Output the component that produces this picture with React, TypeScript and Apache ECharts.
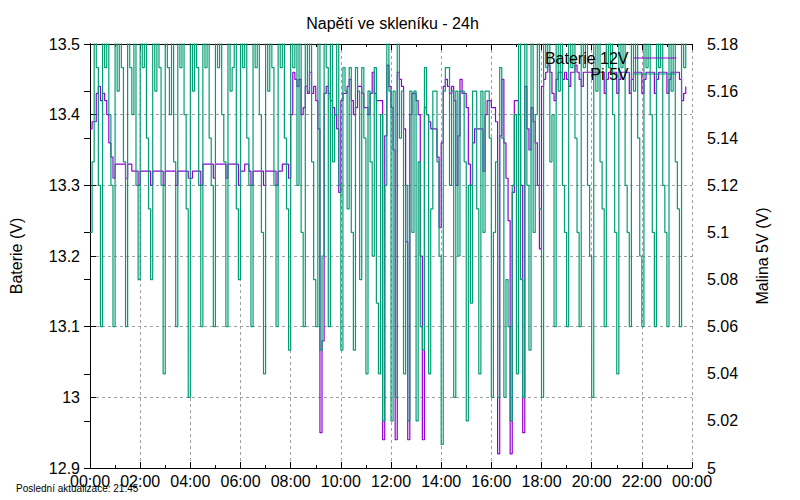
import React, { useEffect, useRef } from 'react';
import * as echarts from 'echarts';

// 5-minute samples, one row per hour (00:00 .. 23:45)
const T = 5.19; // Pi voltage above the plotted range (clipped at the top)

const bateriePerHour: number[][] = [
    [13.38, 13.39, 13.39, 13.43, 13.44, 13.42, 13.43, 13.42, 13.40, 13.36, 13.34, 13.31],
    [13.33, 13.33, 13.33, 13.33, 13.33, 13.31, 13.33, 13.33, 13.32, 13.32, 13.32, 13.30],
    [13.32, 13.32, 13.32, 13.32, 13.32, 13.30, 13.32, 13.32, 13.32, 13.32, 13.32, 13.30],
    [13.32, 13.32, 13.32, 13.32, 13.32, 13.30, 13.32, 13.32, 13.32, 13.32, 13.32, 13.31],
    [13.31, 13.32, 13.32, 13.32, 13.32, 13.30, 13.33, 13.33, 13.33, 13.33, 13.33, 13.31],
    [13.33, 13.33, 13.33, 13.33, 13.33, 13.31, 13.33, 13.33, 13.33, 13.33, 13.33, 13.30],
    [13.32, 13.32, 13.33, 13.33, 13.32, 13.30, 13.32, 13.32, 13.32, 13.32, 13.32, 13.30],
    [13.32, 13.32, 13.32, 13.32, 13.32, 13.30, 13.32, 13.32, 13.33, 13.33, 13.33, 13.31],
    [13.40, 13.46, 13.45, 13.44, 13.45, 13.40, 13.41, 13.44, 13.43, 13.46, 13.43, 13.44],
    [13.42, 13.38, 12.95, 13.08, 13.43, 13.44, 13.43, 13.42, 13.41, 13.40, 13.38, 13.29],
    [13.42, 13.43, 13.43, 13.44, 13.45, 13.42, 13.40, 13.41, 13.44, 13.44, 13.43, 13.41],
    [13.41, 13.40, 13.43, 13.46, 13.43, 13.42, 13.42, 13.42, 12.94, 13.37, 13.47, 13.44],
    [13.41, 13.35, 12.94, 13.46, 13.45, 13.44, 13.38, 13.22, 12.94, 13.40, 13.43, 13.43],
    [13.42, 13.40, 13.20, 12.94, 13.41, 13.40, 13.39, 13.38, 13.38, 13.38, 13.34, 13.24],
    [13.36, 13.44, 13.45, 13.44, 13.43, 13.44, 13.42, 13.30, 13.37, 13.45, 13.43, 13.43],
    [13.41, 13.33, 13.30, 13.36, 13.38, 13.38, 13.38, 13.38, 13.32, 13.40, 13.42, 13.42],
    [13.41, 13.41, 13.39, 12.92, 13.37, 13.45, 13.36, 13.31, 13.25, 12.92, 13.29, 13.42],
    [13.42, 13.40, 13.30, 12.95, 13.44, 13.38, 13.35, 13.41, 13.39, 13.36, 13.30, 13.21],
    [13.44, 13.45, 13.46, 13.47, 13.46, 13.43, 13.42, 13.45, 13.46, 13.46, 13.45, 13.46],
    [13.45, 13.44, 13.46, 13.46, 13.47, 13.46, 13.45, 13.44, 13.46, 13.46, 13.46, 13.46],
    [13.46, 13.46, 13.46, 13.46, 13.46, 13.46, 13.43, 13.45, 13.46, 13.46, 13.46, 13.46],
    [13.43, 13.45, 13.46, 13.46, 13.46, 13.46, 13.43, 13.45, 13.46, 13.46, 13.46, 13.46],
    [13.43, 13.45, 13.46, 13.46, 13.46, 13.46, 13.43, 13.45, 13.46, 13.46, 13.46, 13.46],
    [13.43, 13.45, 13.46, 13.46, 13.46, 13.46, 13.45, 13.42, 13.43, 13.44],
];

const piPerHour: number[][] = [
    [5.10, 5.13, T, 5.17, 5.12, 5.06, T, 5.17, T, 5.15, 5.12, 5.06],
    [T, 5.16, T, 5.17, 5.13, 5.06, T, 5.17, 5.15, T, 5.12, 5.08],
    [T, 5.17, T, 5.14, 5.11, 5.08, T, 5.16, T, 5.17, 5.12, 5.04],
    [T, 5.17, 5.15, T, 5.13, 5.06, T, 5.17, T, 5.15, 5.11, 5.03],
    [T, 5.16, T, 5.17, 5.12, 5.06, T, 5.17, T, 5.14, 5.12, 5.06],
    [T, 5.17, T, 5.15, 5.13, 5.06, T, 5.16, 5.17, T, 5.11, 5.08],
    [T, 5.17, T, 5.14, 5.12, 5.06, T, 5.17, T, 5.15, 5.10, 5.04],
    [T, 5.16, T, 5.17, 5.12, 5.06, T, 5.17, T, 5.14, 5.11, 5.05],
    [T, 5.17, T, 5.12, T, 5.10, 5.06, T, 5.16, T, 5.13, 5.08],
    [5.06, T, 5.05, 5.09, T, 5.17, 5.06, T, 5.13, 5.15, T, 5.12],
    [5.05, 5.17, 5.16, 5.11, 5.17, 5.10, 5.05, 5.17, 5.16, 5.08, 5.17, 5.14],
    [5.04, 5.16, 5.13, 5.09, 5.17, 5.07, 5.04, 5.15, 5.02, 5.12, T, 5.16],
    [5.02, 5.16, 5.03, T, 5.14, 5.16, 5.04, 5.12, 5.02, 5.16, 5.10, 5.16],
    [5.02, 5.13, 5.06, 5.05, 5.17, 5.15, 5.04, 5.11, 5.16, 5.16, 5.13, 5.09],
    [5.01, 5.16, 5.17, 5.17, 5.12, 5.16, 5.03, 5.16, 5.09, 5.16, 5.16, 5.13],
    [5.02, 5.12, 5.07, 5.16, 5.16, 5.11, 5.04, 5.16, 5.10, 5.16, 5.16, 5.14],
    [5.03, 5.10, 5.13, 5.03, 5.17, 5.14, 5.03, 5.08, 5.06, 5.02, 5.12, 5.15],
    [5.04, T, 5.08, 5.03, T, 5.12, 5.05, T, 5.10, 5.15, T, 5.11],
    [5.03, T, 5.17, T, 5.13, 5.15, 5.06, T, 5.16, T, 5.12, 5.10],
    [5.06, T, 5.17, T, 5.14, 5.10, 5.06, T, 5.17, T, 5.12, 5.09],
    [5.03, T, 5.16, T, 5.13, 5.11, 5.06, T, 5.17, T, 5.15, 5.10],
    [5.04, T, 5.17, T, 5.12, 5.10, 5.06, T, 5.16, T, 5.14, 5.09],
    [5.06, T, 5.17, T, 5.15, 5.10, 5.06, T, 5.17, T, 5.12, 5.10],
    [5.06, T, 5.16, T, 5.13, 5.11, 5.06, T, 5.17, T],
];

const xTickMinutes = [0, 120, 240, 360, 480, 600, 720, 840, 960, 1080, 1200, 1320, 1440];
const lastUpdate = 'Poslední aktualizace: 21:45';

const FONT = '"Liberation Sans", Arial, sans-serif';

function toPairs(rows: number[][]): [number, number][] {
    const flat = rows.flat();
    return flat.map((v, i) => [i * 5, v]);
}

function hhmm(min: number): string {
    const h = Math.floor(min / 60) % 24;
    return (h < 10 ? '0' : '') + h + ':00';
}

export default function App() {
    const chartRef = useRef<HTMLDivElement | null>(null);

    useEffect(() => {
        if (!chartRef.current) return;
        const chart = echarts.init(chartRef.current, undefined, { renderer: 'svg' });

        const dashed = { show: true, lineStyle: { color: '#a0a0a0', type: [3, 3] as any, width: 1 } };
        const axisLine = { show: true, lineStyle: { color: '#000', width: 1 } };
        const legendBase = {
            right: 123,
            padding: 0,
            align: 'right',
            itemWidth: 43,
            itemHeight: 14,
            itemGap: 0,
            itemStyle: { opacity: 0 },
            lineStyle: { width: 1 },
            textStyle: { fontSize: 16, color: '#000', fontFamily: FONT },
        };

        const option = {
            animation: false,
            textStyle: { fontFamily: FONT },
            title: {
                text: 'Napětí ve skleníku - 24h',
                left: 387.5,
                textAlign: 'center',
                top: 10,
                textStyle: { fontSize: 16, fontWeight: 'normal', color: '#000', fontFamily: FONT },
            },
            legend: [
                { ...legendBase, data: ['Baterie 12V'], top: 50 },
                { ...legendBase, data: ['Pi 5V'], top: 66 },
            ],
            grid: { left: 83, right: 108, top: 44, bottom: 32, containLabel: false },
            xAxis: [
                {
                    type: 'value',
                    min: 0,
                    max: 1440,
                    interval: 120,
                    axisLine,
                    axisTick: { show: true, inside: true, length: 6, lineStyle: { color: '#000' } },
                    minorTick: { show: true, splitNumber: 2, length: 3, lineStyle: { color: '#000' } },
                    axisLabel: {
                        fontSize: 16,
                        color: '#000',
                        margin: 5,
                        fontFamily: FONT,
                        formatter: (v: number) => (xTickMinutes.includes(v) ? hhmm(v) : ''),
                    },
                    splitLine: dashed,
                },
                {
                    type: 'value',
                    position: 'top',
                    min: 0,
                    max: 1440,
                    interval: 120,
                    axisLine,
                    axisTick: { show: true, inside: true, length: 6, lineStyle: { color: '#000' } },
                    minorTick: { show: true, splitNumber: 2, length: 3, lineStyle: { color: '#000' } },
                    axisLabel: { show: false },
                    splitLine: { show: false },
                },
            ],
            yAxis: [
                {
                    type: 'value',
                    min: 12.9,
                    max: 13.5,
                    interval: 0.1,
                    name: 'Baterie (V)',
                    nameLocation: 'middle',
                    nameGap: 66,
                    nameRotate: 90,
                    nameTextStyle: { fontSize: 16, color: '#000', fontFamily: FONT },
                    axisLine,
                    axisTick: { show: true, inside: true, length: 6, lineStyle: { color: '#000' } },
                    axisLabel: { fontSize: 16, color: '#000', margin: 10, fontFamily: FONT },
                    splitLine: dashed,
                },
                {
                    type: 'value',
                    min: 5,
                    max: 5.18,
                    interval: 0.02,
                    position: 'right',
                    name: 'Malina 5V (V)',
                    nameLocation: 'middle',
                    nameGap: 62,
                    nameRotate: 90,
                    nameTextStyle: { fontSize: 16, color: '#000', fontFamily: FONT },
                    axisLine,
                    axisTick: { show: true, inside: true, length: 6, lineStyle: { color: '#000' } },
                    axisLabel: { fontSize: 16, color: '#000', margin: 15, fontFamily: FONT },
                    splitLine: { show: false },
                },
            ],
            series: [
                {
                    name: 'Baterie 12V',
                    type: 'line',
                    step: 'end',
                    xAxisIndex: 0,
                    yAxisIndex: 0,
                    data: toPairs(bateriePerHour),
                    symbol: 'none',
                    clip: true,
                    lineStyle: { color: '#9400d3', width: 1.2 },
                    itemStyle: { color: '#9400d3' },
                },
                {
                    name: 'Pi 5V',
                    type: 'line',
                    step: 'end',
                    xAxisIndex: 0,
                    yAxisIndex: 1,
                    data: toPairs(piPerHour),
                    symbol: 'none',
                    clip: true,
                    lineStyle: { color: '#009e73', width: 1.2 },
                    itemStyle: { color: '#009e73' },
                },
            ],
            graphic: [
                {
                    type: 'text',
                    left: 16,
                    top: 483,
                    style: { text: lastUpdate, fontSize: 10, fill: '#000', fontFamily: FONT },
                },
            ],
        };

        chart.setOption(option as any);

        return () => {
            chart.dispose();
        };
    }, []);

    return <div ref={chartRef} style={{ width: '800px', height: '500px', margin: '-8px' }} />;
}
